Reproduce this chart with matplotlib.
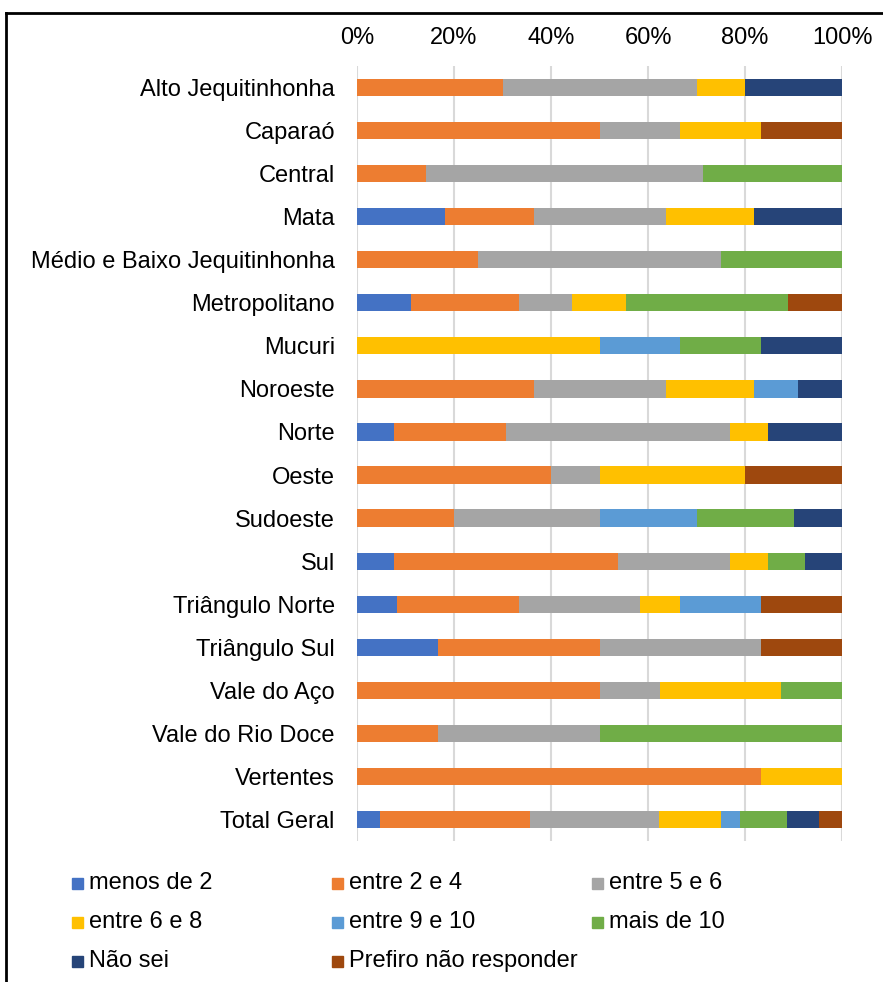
import numpy as np
import matplotlib
matplotlib.use("Agg")
import matplotlib.pyplot as plt
from matplotlib.patches import Rectangle

plt.rcParams['font.family'] = ['Liberation Sans', 'DejaVu Sans']

regioes = ["Alto Jequitinhonha", "Caparaó", "Central", "Mata",
           "Médio e Baixo Jequitinhonha", "Metropolitano", "Mucuri", "Noroeste",
           "Norte", "Oeste", "Sudoeste", "Sul", "Triângulo Norte", "Triângulo Sul",
           "Vale do Aço", "Vale do Rio Doce", "Vertentes", "Total Geral"]

series = ["menos de 2", "entre 2 e 4", "entre 5 e 6", "entre 6 e 8",
          "entre 9 e 10", "mais de 10", "Não sei", "Prefiro não responder"]

# percent per region, one list per answer
menos_de_2 = [0, 0, 0, 18.2, 0, 11.1, 0, 0, 7.7, 0, 0, 7.7, 8.3, 16.7, 0, 0, 0, 4.7]
entre_2_4 = [30, 50, 14.3, 18.2, 25, 22.2, 0, 36.4, 23.1, 40, 20, 46.2, 25, 33.3, 50, 16.7, 83.3, 31.0]
entre_5_6 = [40, 16.7, 57.1, 27.3, 50, 11.1, 0, 27.3, 46.2, 10, 30, 23.1, 25, 33.3, 12.5, 33.3, 0, 26.5]
entre_6_8 = [10, 16.7, 0, 18.2, 0, 11.1, 50, 18.2, 7.7, 30, 0, 7.7, 8.3, 0, 25, 0, 16.7, 12.8]
entre_9_10 = [0, 0, 0, 0, 0, 0, 16.7, 9.1, 0, 0, 20, 0, 16.7, 0, 0, 0, 0, 3.9]
mais_de_10 = [0, 0, 28.6, 0, 25, 33.3, 16.7, 0, 0, 0, 20, 7.7, 0, 0, 12.5, 50, 0, 9.7]
nao_sei = [20, 0, 0, 18.2, 0, 0, 16.7, 9.1, 15.4, 0, 10, 7.7, 0, 0, 0, 0, 0, 6.6]
prefiro = [0, 16.7, 0, 0, 0, 11.1, 0, 0, 0, 20, 0, 0, 16.7, 16.7, 0, 0, 0, 4.8]

cores = ["#4472C4", "#ED7D31", "#A5A5A5", "#FFC000",
         "#5B9BD5", "#70AD47", "#264478", "#9E480E"]

dados = [menos_de_2, entre_2_4, entre_5_6, entre_6_8, entre_9_10, mais_de_10, nao_sei, prefiro]

FS = 17
W, H = 883, 982
fig = plt.figure(figsize=(W / 100, H / 100), dpi=100)
ax = fig.add_axes([357 / W, 1 - 841 / H, 485 / W, 775 / H])

y = np.arange(len(regioes))
esquerda = np.zeros(len(regioes))
for nome, vals, cor in zip(series, dados, cores):
    vals = np.array(vals, dtype=float)
    ax.barh(y, vals, left=esquerda, height=0.4, color=cor, label=nome, zorder=3)
    esquerda += vals

ax.set_xlim(0, 100)
ax.set_ylim(len(regioes) - 0.5, -0.5)
ax.set_yticks(y)
ax.set_yticklabels(regioes, fontsize=FS)
ax.set_xticks(np.arange(0, 101, 20))
ax.set_xticklabels([f"{v}%" for v in range(0, 101, 20)], fontsize=FS)
ax.xaxis.tick_top()
ax.tick_params(axis='x', length=0, pad=12)
ax.tick_params(axis='y', length=0, pad=16)
ax.grid(axis='x', color="#d9d9d9", linewidth=1.5, zorder=0)
for s in ax.spines.values():
    s.set_visible(False)

# legend, drawn like the Excel one: 3 equal columns
for i, (nome, cor) in enumerate(zip(series, cores)):
    col, row = i % 3, i // 3
    px = 72 + col * 260
    py = 883 + row * 39
    fig.patches.append(Rectangle((px / W, 1 - (py + 5.5) / H), 11 / W, 11 / H,
                                 transform=fig.transFigure, color=cor))
    fig.text((px + 17) / W, 1 - py / H, nome, fontsize=FS, va='center', ha='left')

# black frame (only top and left are visible in the crop)
fig.add_artist(plt.Line2D([6 / W, 1], [1 - 13 / H, 1 - 13 / H], color='black',
                          linewidth=2, transform=fig.transFigure))
fig.add_artist(plt.Line2D([6 / W, 6 / W], [0, 1 - 13 / H], color='black',
                          linewidth=2, transform=fig.transFigure))

fig.savefig("out.png", dpi=100)
